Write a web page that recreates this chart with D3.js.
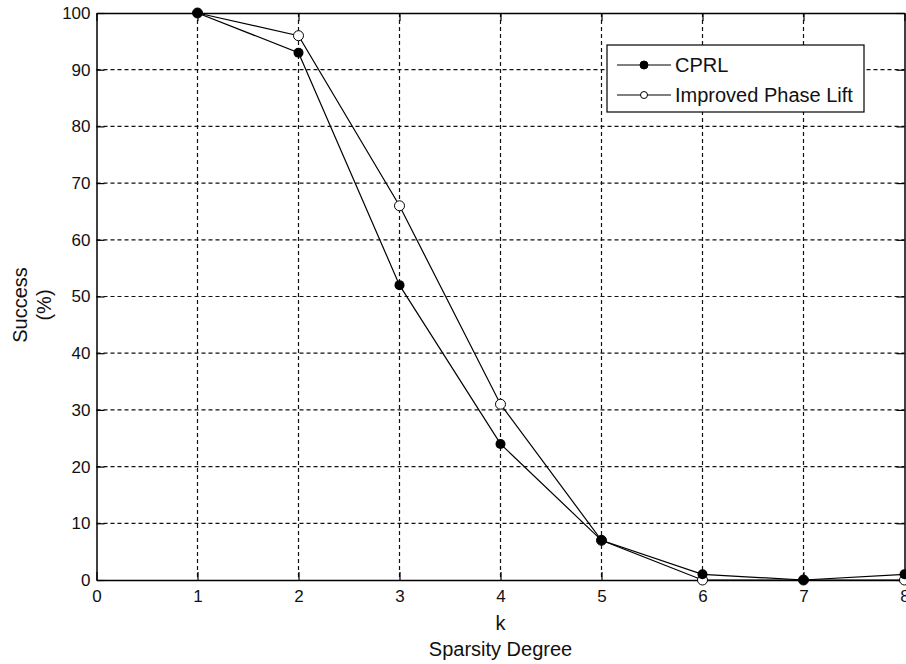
<!DOCTYPE html>
<meta charset='utf-8'>
<html>

<head>
    <script src="https://cdn.jsdelivr.net/npm/d3@7"></script>
    <style>
        body {
            padding: 0;
            margin: 0;
            background: #fff;
            overflow: hidden;
        }

        svg text {
            font-family: Arial, "Liberation Sans", sans-serif;
            fill: #111;
        }
    </style>
</head>

<body>
    <svg id="chart" width="906" height="664"></svg>

    <script>
        // data
        var kValues = [1, 2, 3, 4, 5, 6, 7, 8];
        var cprl = [100, 93, 52, 24, 7, 1, 0, 1];
        var phaseLift = [100, 96, 66, 31, 7, 0, 0, 0];
        var xTicks = [0, 1, 2, 3, 4, 5, 6, 7, 8];
        var yTicks = [0, 10, 20, 30, 40, 50, 60, 70, 80, 90, 100];
        var seriesNames = ["CPRL", "Improved Phase Lift"];

        // plot box (note: "top" is taken by window.top)
        var plotLeft = 96.5, plotRight = 904.5, plotTop = 13, plotBottom = 580;

        var svg = d3.select('#chart');

        var x = d3.scaleLinear().domain([0, 8]).range([plotLeft, plotRight]);
        var y = d3.scaleLinear().domain([0, 100]).range([plotBottom, plotTop]);

        // dashed grid
        var grid = svg.append('g');
        grid.selectAll('.vgrid')
            .data(xTicks.slice(1, -1))
            .enter()
            .append('line')
            .attr('x1', d => x(d)).attr('x2', d => x(d))
            .attr('y1', plotTop).attr('y2', plotBottom)
            .attr('stroke', '#111')
            .attr('stroke-width', 1.2)
            .attr('stroke-dasharray', '4,3');
        grid.selectAll('.hgrid')
            .data(yTicks.slice(1, -1))
            .enter()
            .append('line')
            .attr('x1', plotLeft).attr('x2', plotRight)
            .attr('y1', d => y(d)).attr('y2', d => y(d))
            .attr('stroke', '#111')
            .attr('stroke-width', 1.2)
            .attr('stroke-dasharray', '4,3');

        // axes (ticks pointing inward, box on all sides)
        var tickLen = 8;
        var xAxis = d3.axisBottom(x).tickValues(xTicks).tickSizeInner(-tickLen).tickSizeOuter(0).tickPadding(10);
        var yAxis = d3.axisLeft(y).tickValues(yTicks).tickSizeInner(-tickLen).tickSizeOuter(0).tickPadding(6);
        var xTop = d3.axisTop(x).tickValues(xTicks).tickSizeInner(-tickLen).tickSizeOuter(0).tickFormat('');
        var yRight = d3.axisRight(y).tickValues(yTicks).tickSizeInner(-tickLen).tickSizeOuter(0).tickFormat('');

        function styleAxis(g) {
            g.selectAll('path').attr('stroke', '#000').attr('stroke-width', 1.5);
            g.selectAll('line').attr('stroke', '#000').attr('stroke-width', 1.2);
            g.selectAll('text').attr('font-size', 17).attr('fill', '#1c1c3c')
                .attr('font-family', 'Arial, "Liberation Sans", sans-serif');
        }

        svg.append('g').attr('transform', 'translate(0,' + plotBottom + ')').call(xAxis).call(styleAxis);
        svg.append('g').attr('transform', 'translate(' + plotLeft + ',0)').call(yAxis).call(styleAxis);
        svg.append('g').attr('transform', 'translate(0,' + plotTop + ')').call(xTop).call(styleAxis);
        svg.append('g').attr('transform', 'translate(' + plotRight + ',0)').call(yRight).call(styleAxis);

        // lines
        var line = d3.line()
            .x((d, i) => x(kValues[i]))
            .y(d => y(d));

        svg.append('path')
            .datum(phaseLift)
            .attr('d', line)
            .attr('fill', 'none')
            .attr('stroke', '#000')
            .attr('stroke-width', 1.2);
        svg.selectAll('.open')
            .data(phaseLift)
            .enter()
            .append('circle')
            .attr('cx', (d, i) => x(kValues[i]))
            .attr('cy', d => y(d))
            .attr('r', 5)
            .attr('fill', '#fff')
            .attr('stroke', '#000')
            .attr('stroke-width', 1);

        svg.append('path')
            .datum(cprl)
            .attr('d', line)
            .attr('fill', 'none')
            .attr('stroke', '#000')
            .attr('stroke-width', 1.2);
        svg.selectAll('.filled')
            .data(cprl)
            .enter()
            .append('circle')
            .attr('cx', (d, i) => x(kValues[i]))
            .attr('cy', d => y(d))
            .attr('r', 5)
            .attr('fill', '#000');

        // axis labels
        svg.append('text')
            .attr('x', x(4)).attr('y', 630)
            .attr('text-anchor', 'middle')
            .attr('font-size', 20)
            .text('k');
        svg.append('text')
            .attr('x', x(4)).attr('y', 656)
            .attr('text-anchor', 'middle')
            .attr('font-size', 20)
            .text('Sparsity Degree');
        svg.append('text')
            .attr('transform', 'translate(27,305) rotate(-90)')
            .attr('text-anchor', 'middle')
            .attr('font-size', 20)
            .text('Success');
        svg.append('text')
            .attr('transform', 'translate(51,305) rotate(-90)')
            .attr('text-anchor', 'middle')
            .attr('font-size', 20)
            .text('(%)');

        // legend
        var legend = svg.append('g').attr('transform', 'translate(607,45)');
        legend.append('rect')
            .attr('width', 257).attr('height', 67)
            .attr('fill', '#fff')
            .attr('stroke', '#000')
            .attr('stroke-width', 1.2);
        var items = legend.selectAll('.item')
            .data(seriesNames)
            .enter()
            .append('g')
            .attr('transform', (d, i) => 'translate(0,' + (20 + i * 30) + ')');
        items.append('line')
            .attr('x1', 10).attr('x2', 64)
            .attr('stroke', '#000').attr('stroke-width', 1.2);
        items.append('circle')
            .attr('cx', 37).attr('r', (d, i) => i === 0 ? 4 : 3.5)
            .attr('fill', (d, i) => i === 0 ? '#000' : '#fff')
            .attr('stroke', '#000');
        items.append('text')
            .attr('x', 68).attr('y', 7)
            .attr('font-size', 20)
            .text(d => d);
    </script>
</body>

</html>
